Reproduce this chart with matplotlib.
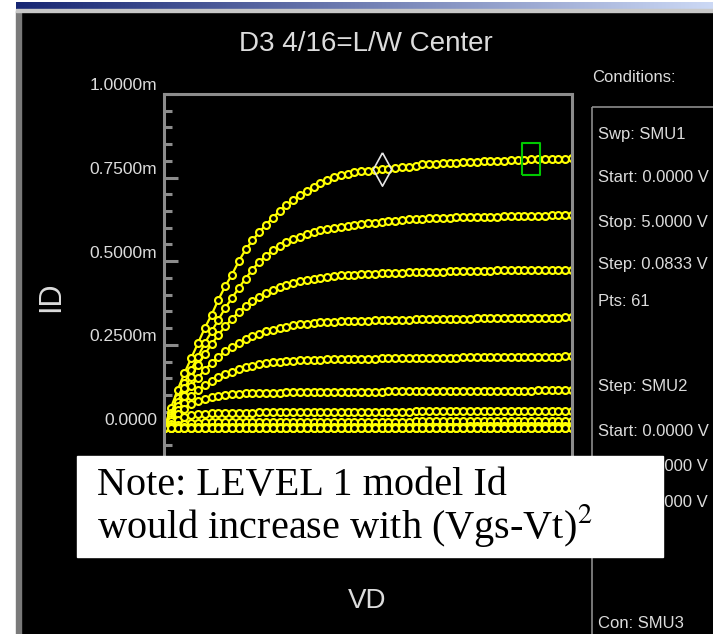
import numpy as np
import matplotlib.pyplot as plt
from matplotlib.patches import Rectangle
from matplotlib.ticker import MultipleLocator

# Sweep settings (SMU1 drain sweep, as listed on the screen)
sweep_start = 0.0
sweep_stop = 5.0
sweep_pts = 61

# Drain current in mA, one list per gate step (SMU2: 0 .. 5 V, 0.5 V step)
id_vg50 = [0.000, 0.060, 0.115, 0.165, 0.210, 0.255, 0.300, 0.340, 0.385, 0.425, 0.460, 0.500, 0.535,
           0.562, 0.587, 0.609, 0.630, 0.650, 0.668, 0.684, 0.698, 0.711, 0.722, 0.733, 0.742,
           0.752, 0.758, 0.762, 0.766, 0.769, 0.771, 0.773, 0.775, 0.777, 0.779, 0.781, 0.783,
           0.786, 0.790, 0.791, 0.792, 0.793, 0.794, 0.795, 0.797, 0.798, 0.798, 0.799, 0.800,
           0.800, 0.801, 0.802, 0.803, 0.804, 0.805, 0.805, 0.806, 0.806, 0.807, 0.807, 0.808]
id_vg45 = [0.000, 0.045, 0.090, 0.135, 0.175, 0.215, 0.255, 0.290, 0.325, 0.360, 0.390, 0.420, 0.448,
           0.475, 0.498, 0.516, 0.532, 0.545, 0.556, 0.565, 0.573, 0.580, 0.587, 0.592, 0.597,
           0.600, 0.603, 0.606, 0.608, 0.611, 0.613, 0.615, 0.617, 0.619, 0.621, 0.623, 0.625,
           0.626, 0.627, 0.628, 0.629, 0.630, 0.630, 0.631, 0.631, 0.632, 0.632, 0.633, 0.633,
           0.633, 0.634, 0.634, 0.634, 0.635, 0.635, 0.635, 0.636, 0.637, 0.637, 0.638, 0.638]
id_vg40 = [0.000, 0.040, 0.080, 0.120, 0.155, 0.190, 0.222, 0.252, 0.280, 0.305, 0.328, 0.348, 0.366,
           0.381, 0.394, 0.405, 0.414, 0.422, 0.429, 0.435, 0.440, 0.444, 0.448, 0.451, 0.454,
           0.456, 0.458, 0.459, 0.460, 0.461, 0.462, 0.463, 0.464, 0.465, 0.466, 0.466, 0.467,
           0.467, 0.468, 0.468, 0.469, 0.469, 0.470, 0.470, 0.471, 0.471, 0.472, 0.472, 0.472,
           0.473, 0.473, 0.473, 0.473, 0.473, 0.474, 0.474, 0.474, 0.474, 0.474, 0.474, 0.474]
id_vg35 = [0.000, 0.035, 0.068, 0.098, 0.126, 0.152, 0.175, 0.196, 0.214, 0.230, 0.244, 0.256, 0.266,
           0.275, 0.283, 0.290, 0.295, 0.300, 0.304, 0.308, 0.311, 0.313, 0.315, 0.317, 0.318,
           0.319, 0.320, 0.321, 0.321, 0.322, 0.322, 0.323, 0.323, 0.324, 0.324, 0.325, 0.325,
           0.326, 0.326, 0.326, 0.327, 0.327, 0.327, 0.328, 0.328, 0.328, 0.329, 0.329, 0.329,
           0.329, 0.330, 0.330, 0.330, 0.330, 0.331, 0.331, 0.331, 0.331, 0.331, 0.332, 0.332]
id_vg30 = [0.000, 0.028, 0.054, 0.077, 0.097, 0.114, 0.129, 0.142, 0.153, 0.162, 0.170, 0.177, 0.183,
           0.188, 0.192, 0.195, 0.198, 0.200, 0.202, 0.203, 0.204, 0.205, 0.206, 0.206, 0.207,
           0.207, 0.208, 0.208, 0.208, 0.209, 0.209, 0.209, 0.210, 0.210, 0.210, 0.210, 0.211,
           0.211, 0.211, 0.211, 0.212, 0.212, 0.212, 0.212, 0.213, 0.213, 0.213, 0.213, 0.213,
           0.214, 0.214, 0.214, 0.214, 0.214, 0.215, 0.215, 0.215, 0.215, 0.215, 0.216, 0.216]
id_vg25 = [0.000, 0.022, 0.042, 0.058, 0.072, 0.082, 0.089, 0.094, 0.098, 0.101, 0.103, 0.104, 0.105,
           0.106, 0.106, 0.107, 0.107, 0.107, 0.108, 0.108, 0.108, 0.108, 0.109, 0.109, 0.109,
           0.109, 0.109, 0.110, 0.110, 0.110, 0.110, 0.110, 0.110, 0.111, 0.111, 0.111, 0.111,
           0.111, 0.111, 0.111, 0.112, 0.112, 0.112, 0.112, 0.112, 0.112, 0.112, 0.113, 0.113,
           0.113, 0.113, 0.113, 0.113, 0.113, 0.113, 0.114, 0.114, 0.114, 0.114, 0.114, 0.114]
id_vg20 = [0.000, 0.014, 0.026, 0.034, 0.039, 0.042, 0.044, 0.045, 0.046, 0.046, 0.047, 0.047, 0.047,
           0.047, 0.048, 0.048, 0.048, 0.048, 0.048, 0.049, 0.049, 0.049, 0.049, 0.049, 0.049,
           0.049, 0.049, 0.050, 0.050, 0.050, 0.050, 0.050, 0.050, 0.050, 0.050, 0.050, 0.050,
           0.051, 0.051, 0.051, 0.051, 0.051, 0.051, 0.051, 0.051, 0.051, 0.051, 0.051, 0.051,
           0.052, 0.052, 0.052, 0.052, 0.052, 0.052, 0.052, 0.052, 0.052, 0.052, 0.052, 0.052]
id_vg15 = [0.000, 0.006, 0.011, 0.014, 0.016, 0.017, 0.018, 0.018, 0.018, 0.019, 0.019, 0.019, 0.019,
           0.019, 0.019, 0.019, 0.019, 0.020, 0.020, 0.020, 0.020, 0.020, 0.020, 0.020, 0.020,
           0.020, 0.020, 0.020, 0.020, 0.020, 0.020, 0.020, 0.020, 0.020, 0.020, 0.020, 0.020,
           0.021, 0.021, 0.021, 0.021, 0.021, 0.021, 0.021, 0.021, 0.021, 0.021, 0.021, 0.021,
           0.021, 0.021, 0.021, 0.021, 0.021, 0.021, 0.021, 0.021, 0.021, 0.021, 0.021, 0.021]
id_vg10 = [0.000, 0.002, 0.003, 0.004, 0.004, 0.005, 0.005, 0.005, 0.005, 0.005, 0.005, 0.005, 0.005,
           0.005, 0.005, 0.005, 0.005, 0.005, 0.005, 0.005, 0.005, 0.005, 0.005, 0.005, 0.005,
           0.005, 0.005, 0.005, 0.005, 0.005, 0.005, 0.005, 0.005, 0.005, 0.005, 0.005, 0.005,
           0.005, 0.005, 0.005, 0.005, 0.005, 0.005, 0.005, 0.005, 0.006, 0.006, 0.006, 0.006,
           0.006, 0.006, 0.006, 0.006, 0.006, 0.006, 0.006, 0.006, 0.006, 0.006, 0.006, 0.006]
id_vg05 = [0.000, 0.001, 0.001, 0.001, 0.001, 0.001, 0.001, 0.001, 0.001, 0.001, 0.001, 0.001, 0.001,
           0.001, 0.001, 0.001, 0.001, 0.001, 0.001, 0.001, 0.001, 0.001, 0.001, 0.001, 0.001,
           0.001, 0.001, 0.001, 0.001, 0.001, 0.001, 0.001, 0.001, 0.001, 0.001, 0.001, 0.001,
           0.001, 0.001, 0.001, 0.001, 0.001, 0.001, 0.001, 0.001, 0.001, 0.001, 0.001, 0.001,
           0.001, 0.001, 0.001, 0.001, 0.001, 0.001, 0.001, 0.001, 0.001, 0.001, 0.001, 0.001]
id_vg00 = [0.000, 0.000, 0.000, 0.000, 0.000, 0.000, 0.000, 0.000, 0.000, 0.000, 0.000, 0.000, 0.000,
           0.000, 0.000, 0.000, 0.000, 0.000, 0.000, 0.000, 0.000, 0.000, 0.000, 0.000, 0.000,
           0.000, 0.000, 0.000, 0.000, 0.000, 0.000, 0.000, 0.000, 0.000, 0.000, 0.000, 0.000,
           0.000, 0.000, 0.000, 0.000, 0.000, 0.000, 0.000, 0.000, 0.000, 0.000, 0.000, 0.000,
           0.000, 0.000, 0.000, 0.000, 0.000, 0.000, 0.000, 0.000, 0.000, 0.000, 0.000, 0.000]

# Y tick labels (mA)
ytick_vals = [0.0, 0.25, 0.5, 0.75, 1.0]
ytick_labels = ["0.0000", "0.2500m", "0.5000m", "0.7500m", "1.0000m"]

# Conditions panel text
cond_lines = ["Swp: SMU1", "Start: 0.0000 V", "Stop: 5.0000 V", "Step: 0.0833 V", "Pts: 61",
              "Step: SMU2", "Start: 0.0000 V", "Stop: 5.0000 V", "Step: 0.5000 V", "Pts: 11",
              "Con: SMU3"]
cond_y = [135, 178, 222, 265, 301, 386, 431, 466, 503, 553, 624]

note_text = "Note: LEVEL 1 model Id\nwould increase with (Vgs-Vt)$^2$"

# cursor positions (sweep index on the top curve)
marker_idx = 32
cursor_idx = 54

W, H = 713, 634
SANS = 'Liberation Sans'
FG = '#dcdcdc'
GRAY = '#8c8c8c'
YEL = '#ffff00'

plt.rcParams['mathtext.fontset'] = 'stix'


def px_rect(x0, y0, x1, y1):
    # pixel box (top-left origin) -> figure fraction rect
    return [x0 / W, 1 - y1 / H, (x1 - x0) / W, (y1 - y0) / H]


fig = plt.figure(figsize=(W / 100, H / 100), dpi=100)
fig.patch.set_facecolor('white')

# screen background in pixel coordinates
bg = fig.add_axes([0, 0, 1, 1])
bg.set_xlim(0, W)
bg.set_ylim(H, 0)
bg.axis('off')
bg.add_patch(Rectangle((21, 12), W - 21, H - 12, color='black'))
bg.add_patch(Rectangle((16, 11), 5, H - 11, color='#7a7a7a'))
bg.add_patch(Rectangle((16, 9), W - 16, 2.5, color='#c8c8c8'))
grad = np.linspace(0, 1, 256)
top_left = np.array([0.09, 0.15, 0.45])
top_right = np.array([0.80, 0.85, 0.96])
bar = (top_left[None, :] * (1 - grad[:, None]) + top_right[None, :] * grad[:, None])[None, :, :]
bg.imshow(bar, extent=(16, W, 9, 2), aspect='auto', interpolation='bilinear')

bg.text(366, 44, "D3 4/16=L/W Center", family=SANS, fontsize=20, color=FG,
        ha='center', va='center')
bg.text(51, 297, "ID", family=SANS, fontsize=22, color=FG, rotation=90,
        ha='center', va='center')
bg.text(367, 601, "VD", family=SANS, fontsize=20, color=FG, ha='center', va='center')
bg.text(592, 78, "Conditions:", family=SANS, fontsize=12, color=FG, ha='left', va='center')
bg.add_patch(Rectangle((592, 107), 140, 600, fill=False, edgecolor=GRAY, lw=1.2))
for line, y in zip(cond_lines, cond_y):
    bg.text(598, y, line, family=SANS, fontsize=12, color=FG, ha='left', va='center')

# main plot
ax = fig.add_axes(px_rect(164, 94, 572, 512))
ax.set_facecolor('none')
vd = np.linspace(sweep_start, sweep_stop, sweep_pts)
curves = [id_vg50, id_vg45, id_vg40, id_vg35, id_vg30, id_vg25,
          id_vg20, id_vg15, id_vg10, id_vg05, id_vg00]
for ids in curves:
    ax.plot(vd, ids, color=YEL, lw=1.6, marker='o', markersize=5.0,
            markerfacecolor='black', markeredgecolor=YEL, markeredgewidth=1.5)

diamond = [(0, 1), (0.55, 0), (0, -1), (-0.55, 0), (0, 1)]
ax.plot(vd[marker_idx], id_vg50[marker_idx], marker=diamond, markersize=24,
        markerfacecolor='none', markeredgecolor='#e6e6e6', markeredgewidth=1.2)
box = [(-0.58, -1), (0.58, -1), (0.58, 1), (-0.58, 1), (-0.58, -1)]
ax.plot(vd[cursor_idx], id_vg50[cursor_idx], marker=box, markersize=22.5,
        markerfacecolor='none', markeredgecolor='#00c800', markeredgewidth=1.5)

ax.set_xlim(sweep_start, sweep_stop)
ax.set_ylim(-0.25, 1.0)
ax.set_xticks([])
ax.set_yticks([-0.25, 0.0, 0.25, 0.5, 0.75, 1.0])
ax.yaxis.set_minor_locator(MultipleLocator(0.05))
ax.tick_params(axis='y', which='major', direction='in', length=10, width=2.2,
               color=GRAY, labelleft=False)
ax.tick_params(axis='y', which='minor', direction='in', length=5.5, width=2.2, color=GRAY)
for s in ax.spines.values():
    s.set_color(GRAY)
    s.set_linewidth(2.2)
for v, lab in zip(ytick_vals, ytick_labels):
    ax.annotate(lab, xy=(0, v), xycoords=('axes fraction', 'data'), xytext=(-7, 8),
                textcoords='offset pixels', ha='right', va='center',
                family=SANS, fontsize=12.5, color=FG, annotation_clip=False)

# white note box on top
ov = fig.add_axes([0, 0, 1, 1], zorder=5)
ov.set_xlim(0, W)
ov.set_ylim(H, 0)
ov.axis('off')
ov.add_patch(Rectangle((77, 456), 586, 101, color='white'))
ov.text(97, 508, note_text, family='Liberation Serif', fontsize=29, color='black',
        ha='left', va='center', linespacing=0.95)

fig.savefig('out.png', dpi=100, facecolor=fig.get_facecolor())
